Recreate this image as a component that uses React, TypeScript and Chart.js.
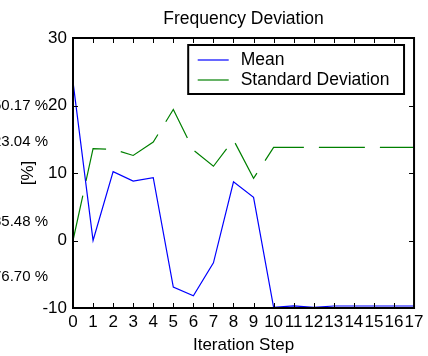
import React, { useEffect, useRef } from "react";
import { Chart, registerables } from "chart.js";

Chart.register(...registerables);

const FONT = "'Liberation Sans', Arial, Helvetica, sans-serif";

const iterations = ["0", "1", "2", "3", "4", "5", "6", "7", "8", "9", "10", "11", "12", "13", "14", "15", "16", "17"];
const meanValues = [23.5, 0.0, 10.2, 8.8, 9.3, -6.9, -8.2, -3.3, 8.7, 6.4, -9.9, -9.7, -9.9, -9.7, -9.7, -9.7, -9.7, -9.7];
const stdValues = [0.0, 13.6, 13.5, 12.6, 14.6, 19.4, 13.4, 11.0, 14.9, 9.2, 13.8, 13.8, 13.8, 13.8, 13.8, 13.8, 13.8, 13.8];
const seriesNames = ["Mean", "Standard Deviation"];
const yMin = -10;
const yMax = 30;
const yStep = 10;
const sideLabels = ["50.17 %", "23.04 %", "85.48 %", "76.70 %"];
const sideLabelValues = [20, 14.6, 2.75, -5.4];

const decorPlugin = {
  id: "decor",
  afterDraw(chart: any) {
    const ctx = chart.ctx as CanvasRenderingContext2D;
    const a = chart.chartArea;
    const xs = chart.scales.x;
    const ys = chart.scales.y;
    ctx.save();
    // frame
    ctx.strokeStyle = "#000";
    ctx.lineWidth = 2;
    ctx.strokeRect(a.left, a.top, a.right - a.left, a.bottom - a.top);
    // inner ticks
    ctx.lineWidth = 1;
    const tl = 5;
    ctx.beginPath();
    xs.ticks.forEach((_t: any, i: number) => {
      const px = Math.round(xs.getPixelForTick(i)) + 0.5;
      ctx.moveTo(px, a.bottom);
      ctx.lineTo(px, a.bottom - tl);
      ctx.moveTo(px, a.top);
      ctx.lineTo(px, a.top + tl);
    });
    ys.ticks.forEach((_t: any, i: number) => {
      const py = Math.round(ys.getPixelForTick(i)) + 0.5;
      ctx.moveTo(a.left, py);
      ctx.lineTo(a.left + tl, py);
      ctx.moveTo(a.right, py);
      ctx.lineTo(a.right - tl, py);
    });
    ctx.stroke();

    // side labels (clipped at left edge)
    ctx.fillStyle = "#000";
    ctx.font = `15px ${FONT}`;
    ctx.textAlign = "right";
    ctx.textBaseline = "middle";
    sideLabels.forEach((s, i) => {
      ctx.fillText(s, 48, ys.getPixelForValue(sideLabelValues[i]));
    });

    // legend
    const fs = 17.5;
    ctx.font = `${fs}px ${FONT}`;
    const datasets = chart.data.datasets;
    let tw = 0;
    datasets.forEach((d: any) => {
      tw = Math.max(tw, ctx.measureText(d.label).width);
    });
    const padL = 9.5, lineLen = 31, gap = 12, padR = 14.5, rowH = 20;
    const boxW = padL + lineLen + gap + tw + padR;
    const boxH = 15 + rowH * (datasets.length - 1) + 14;
    const right = a.right - 10;
    const left = right - boxW;
    const top = a.top + 7;
    ctx.fillStyle = "#fff";
    ctx.fillRect(left, top, boxW, boxH);
    ctx.strokeStyle = "#000";
    ctx.lineWidth = 2;
    ctx.strokeRect(left, top, boxW, boxH);
    datasets.forEach((d: any, i: number) => {
      const cy = top + 15 + rowH * i;
      ctx.strokeStyle = d.borderColor;
      ctx.lineWidth = 1.2;
      ctx.setLineDash([]);
      ctx.beginPath();
      ctx.moveTo(left + padL, cy);
      ctx.lineTo(left + padL + lineLen, cy);
      ctx.stroke();
      ctx.fillStyle = "#000";
      ctx.textAlign = "left";
      ctx.textBaseline = "middle";
      ctx.fillText(d.label, left + padL + lineLen + gap, cy);
    });
    ctx.restore();
  },
};

export default function App() {
  const ref = useRef<HTMLCanvasElement>(null);
  useEffect(() => {
    if (!ref.current) return;
    const chart = new Chart(ref.current, {
      type: "line",
      data: {
        labels: iterations,
        datasets: [
          {
            label: seriesNames[0],
            data: meanValues,
            borderColor: "#0000ff",
            borderWidth: 1.2,
            pointRadius: 0,
            tension: 0,
            fill: false,
          },
          {
            label: seriesNames[1],
            data: stdValues,
            borderColor: "#008000",
            borderWidth: 1.2,
            borderDash: [46, 15],
            pointRadius: 0,
            tension: 0,
            fill: false,
          },
        ],
      },
      options: {
        responsive: false,
        animation: false,
        devicePixelRatio: 1,
        layout: { padding: { left: 0, right: 12, top: 0, bottom: 0 } },
        plugins: {
          legend: { display: false },
          tooltip: { enabled: false },
          title: {
            display: true,
            fullSize: false,
            text: "Frequency Deviation",
            color: "#000",
            font: { family: FONT, size: 17.5, weight: "normal" },
            padding: { top: 8.7, bottom: 8.3 },
          },
        },
        scales: {
          x: {
            type: "category",
            offset: false,
            grid: { display: false, drawTicks: false },
            border: { display: false },
            ticks: {
              autoSkip: false,
              maxRotation: 0,
              minRotation: 0,
              padding: 4.5,
              color: "#000",
              font: { family: FONT, size: 17 },
            },
            title: {
              display: true,
              text: "Iteration Step",
              color: "#000",
              font: { family: FONT, size: 17 },
              padding: { top: 0, bottom: 0 },
            },
            afterFit: (s: any) => {
              s.height = 48;
            },
          },
          y: {
            type: "linear",
            min: yMin,
            max: yMax,
            grid: { display: false, drawTicks: false },
            border: { display: false },
            ticks: {
              stepSize: yStep,
              padding: 6,
              color: "#000",
              font: { family: FONT, size: 17 },
            },
            title: {
              display: true,
              text: "[%]",
              color: "#000",
              font: { family: FONT, size: 17 },
              padding: { top: 18, bottom: 0 },
            },
            afterFit: (s: any) => {
              s.width = 73;
            },
          },
        },
      },
      plugins: [decorPlugin],
    });
    return () => chart.destroy();
  }, []);
  return (
    <div style={{ position: "absolute", left: 0, top: 0, width: 428, height: 356 }}>
      <canvas ref={ref} width={428} height={356} style={{ display: "block" }} />
    </div>
  );
}
